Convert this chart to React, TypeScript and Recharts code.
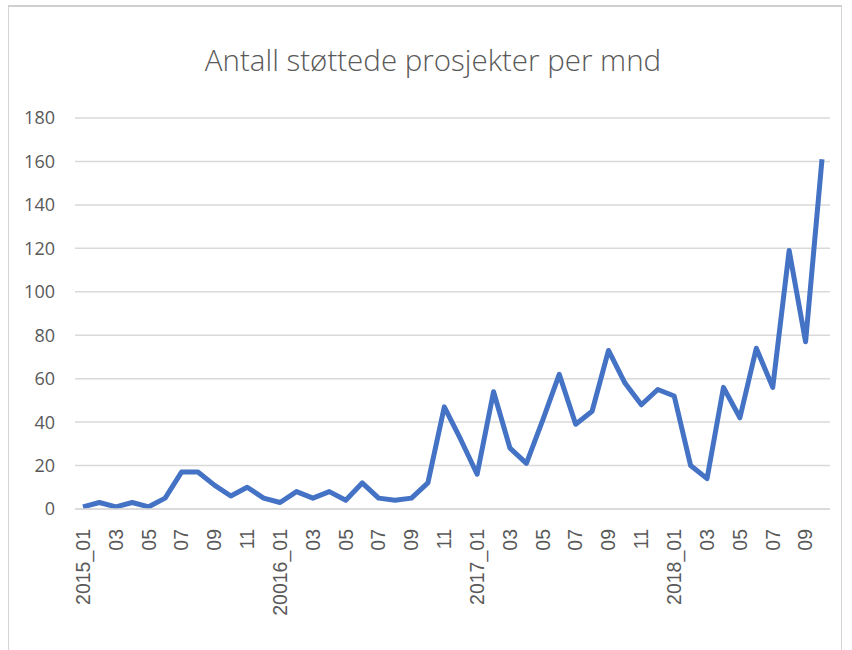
import { LineChart, Line, XAxis, YAxis, CartesianGrid } from "recharts";

const months2015 = ["2015_01", "02", "03", "04", "05", "06", "07", "08", "09", "10", "11", "12"];
const months2016 = ["20016_01", "02", "03", "04", "05", "06", "07", "08", "09", "10", "11", "12"];
const months2017 = ["2017_01", "02", "03", "04", "05", "06", "07", "08", "09", "10", "11", "12"];
const months2018 = ["2018_01", "02", "03", "04", "05", "06", "07", "08", "09", "10"];

const projects2015 = [1, 3, 1, 3, 1, 5, 17, 17, 11, 6, 10, 5];
const projects2016 = [3, 8, 5, 8, 4, 12, 5, 4, 5, 12, 47, 32];
const projects2017 = [16, 54, 28, 21, 41, 62, 39, 45, 73, 58, 48, 55];
const projects2018 = [52, 20, 14, 56, 42, 74, 56, 119, 77, 161];

const yTicks = [0, 20, 40, 60, 80, 100, 120, 140, 160, 180];

const months = [...months2015, ...months2016, ...months2017, ...months2018];
const projects = [...projects2015, ...projects2016, ...projects2017, ...projects2018];
const data = months.map((m, i) => ({ month: m, projects: projects[i] }));

// rotated month labels, reading bottom-to-top and ending just under the axis
function MonthTick({ x, y, payload }: any) {
  return (
    <text
      x={x}
      y={y}
      transform={`rotate(-90 ${x} ${y})`}
      textAnchor="end"
      dy="0.35em"
      fill="#595959"
      fontSize={19.5}
      fontFamily="'Liberation Sans', Arial, sans-serif"
    >
      {payload.value}
    </text>
  );
}

export default function App() {
  return (
    <div style={{ position: "absolute", left: 0, top: 0, width: 852, height: 650, overflow: "hidden", background: "#fff" }}>
      <div
        style={{
          position: "absolute",
          left: 8,
          top: 5,
          width: 832,
          height: 680,
          border: "1px solid #d4d4d4",
          borderTop: "2px solid #cfcfcf",
        }}
      />
      <div
        style={{
          position: "absolute",
          left: 0,
          top: 39,
          width: 866,
          textAlign: "center",
          fontFamily: "'Open Sans', sans-serif",
          fontWeight: 300,
          fontSize: 29.5,
          color: "#595959",
        }}
      >
        Antall støttede prosjekter per mnd
      </div>
      <div style={{ position: "absolute", left: 0, top: 0 }}>
        <LineChart width={852} height={650} data={data} margin={{ top: 118, right: 22, bottom: 41, left: 0 }}>
          <CartesianGrid vertical={false} stroke="#d9d9d9" strokeWidth={1.5} />
          <XAxis
            dataKey="month"
            interval={1}
            height={100}
            padding={{ left: 8, right: 8 }}
            axisLine={{ stroke: "#d9d9d9", strokeWidth: 1.5 }}
            tickLine={false}
            tickSize={0}
            tickMargin={20}
            tick={<MonthTick />}
          />
          <YAxis
            width={75}
            domain={[0, 180]}
            ticks={yTicks}
            axisLine={false}
            tickLine={false}
            tickSize={0}
            tickMargin={20}
            tick={{ fill: "#595959", fontSize: 18, fontFamily: "'Open Sans', sans-serif" }}
          />
          <Line
            type="linear"
            dataKey="projects"
            stroke="#4472C4"
            strokeWidth={5}
            strokeLinejoin="round"
            dot={false}
            isAnimationActive={false}
          />
        </LineChart>
      </div>
    </div>
  );
}
